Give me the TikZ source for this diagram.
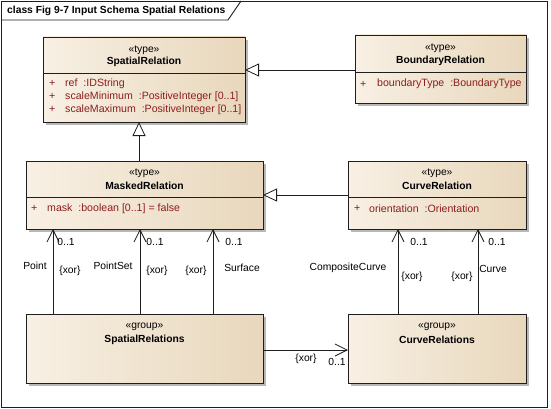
\documentclass[tikz,border=0pt]{standalone}
\usepackage{fontspec}
\setmainfont{Liberation Sans}
\usetikzlibrary{arrows.meta,shadows}
\definecolor{attr}{RGB}{140,30,30}
\definecolor{boxl}{RGB}{248,240,228}
\definecolor{boxr}{RGB}{232,215,188}
\definecolor{edgec}{RGB}{30,30,30}
\begin{document}
\begin{tikzpicture}[x=1pt,y=-1pt,
  font=\fontsize{10.3}{12}\selectfont,
  cls/.style={draw=edgec, line width=0.9pt, left color=boxl, right color=boxr,
    anchor=north west, inner sep=0pt, outer sep=0pt,
    general shadow={fill=black!28, shadow xshift=3pt, shadow yshift=-3pt}},
  stereo/.style={inner sep=0pt},
  cname/.style={inner sep=0pt, font=\fontsize{10.3}{12}\selectfont\bfseries},
  attrt/.style={inner sep=0pt, anchor=west, text=attr, font=\fontsize{10.6}{12}\selectfont},
  lbl/.style={inner sep=0pt},
  divider/.style={draw=edgec, line width=0.8pt},
  gen/.style={draw=edgec, line width=0.8pt, -{Triangle[open, length=14pt, width=13pt, fill=white, line width=0.8pt]}},
  assoc/.style={draw=edgec, line width=0.8pt, -{Straight Barb[length=12pt, width=12pt, line width=0.8pt]}}
]
\useasboundingbox (0,0) rectangle (551,409);
% frame
\draw[edgec, line width=0.9pt] (1,1) rectangle (547,407);
\draw[edgec, line width=0.9pt] (1,20) -- (228,20) -- (241,1);
\node[anchor=west, inner sep=0pt, font=\fontsize{10.3}{12}\selectfont\bfseries] (title) at (7,10.5) {class Fig 9-7 Input Schema Spatial Relations};

% SpatialRelation
\node[cls, minimum width=202pt, minimum height=85pt] (SR) at (43,37) {};
\draw[divider] (SR.west |- 0,73) -- (SR.east |- 0,73);
\node[stereo] (SRs) at (144,50) {«type»};
\node[cname] (SRn) at (144,62) {SpatialRelation};
\node[attrt] (SRp1) at (49,83.5) {+};
\node[attrt] (SRa1) at (65,83.5) {ref\ \ :IDString};
\node[attrt] (SRp2) at (49,96.5) {+};
\node[attrt] (SRa2) at (65,96.5) {scaleMinimum\ \ :PositiveInteger [0..1]};
\node[attrt] (SRp3) at (49,109.5) {+};
\node[attrt] (SRa3) at (65,109.5) {scaleMaximum\ \ :PositiveInteger [0..1]};

% BoundaryRelation
\node[cls, minimum width=171pt, minimum height=68pt] (BR) at (355,35) {};
\draw[divider] (BR.west |- 0,72) -- (BR.east |- 0,72);
\node[stereo] (BRs) at (440.5,48) {«type»};
\node[cname] (BRn) at (440.5,61) {BoundaryRelation};
\node[attrt] (BRp1) at (360,84) {+};
\node[attrt] (BRa1) at (377,84) {boundaryType\ \ :BoundaryType};

% MaskedRelation
\node[cls, minimum width=237pt, minimum height=68pt] (MR) at (26,161) {};
\draw[divider] (MR.west |- 0,197) -- (MR.east |- 0,197);
\node[stereo] (MRs) at (144.5,173) {«type»};
\node[cname] (MRn) at (144.5,186) {MaskedRelation};
\node[attrt] (MRp1) at (31,208.5) {+};
\node[attrt] (MRa1) at (47,208.5) {mask\ \ :boolean [0..1] = false};

% CurveRelation
\node[cls, minimum width=178pt, minimum height=68pt] (CR) at (348,161) {};
\draw[divider] (CR.west |- 0,197) -- (CR.east |- 0,197);
\node[stereo] (CRs) at (437,173) {«type»};
\node[cname] (CRn) at (437,186) {CurveRelation};
\node[attrt] (CRp1) at (354,208.5) {+};
\node[attrt] (CRa1) at (369,208.5) {orientation\ \ :Orientation};

% SpatialRelations group
\node[cls, minimum width=237pt, minimum height=69pt] (SG) at (26,314) {};
\node[stereo] (SGs) at (144.5,327) {«group»};
\node[cname] (SGn) at (144.5,340) {SpatialRelations};

% CurveRelations group
\node[cls, minimum width=178pt, minimum height=69pt] (CG) at (348,314) {};
\node[stereo] (CGs) at (437,327) {«group»};
\node[cname] (CGn) at (437,340) {CurveRelations};

% generalizations
\draw[gen] (BR.west |- 0,70) -- (SR.east |- 0,70);
\draw[gen] (139,0 |- MR.north) -- (139,0 |- SR.south);
\draw[gen] (CR.west |- 0,195) -- (MR.east |- 0,195);

% associations
\draw[assoc] (53,0 |- SG.north) -- (53,0 |- MR.south);
\draw[assoc] (140,0 |- SG.north) -- (140,0 |- MR.south);
\draw[assoc] (213,0 |- SG.north) -- (213,0 |- MR.south);
\draw[assoc] (398,0 |- CG.north) -- (398,0 |- CR.south);
\draw[assoc] (478,0 |- CG.north) -- (478,0 |- CR.south);
\draw[assoc] (SG.east |- 0,350) -- (CG.west |- 0,350);

% labels
\node[lbl] (m1) at (66,242) {0..1};
\node[lbl] (m2) at (155,242) {0..1};
\node[lbl] (m3) at (234,242) {0..1};
\node[lbl] (r1) at (35,266) {Point};
\node[lbl] (x1) at (70,271) {\{xor\}};
\node[lbl] (r2) at (113,266) {PointSet};
\node[lbl] (x2) at (157,271) {\{xor\}};
\node[lbl] (x3) at (196,271) {\{xor\}};
\node[lbl] (r3) at (242,268) {Surface};
\node[lbl] (m4) at (419,242) {0..1};
\node[lbl] (m5) at (497,242) {0..1};
\node[lbl] (r4) at (348,268) {CompositeCurve};
\node[lbl] (x4) at (412,277) {\{xor\}};
\node[lbl] (x5) at (462,277) {\{xor\}};
\node[lbl] (r5) at (493,269) {Curve};
\node[lbl] (x6) at (306,359) {\{xor\}};
\node[lbl] (m6) at (337,362) {0..1};
\end{tikzpicture}
\end{document}
